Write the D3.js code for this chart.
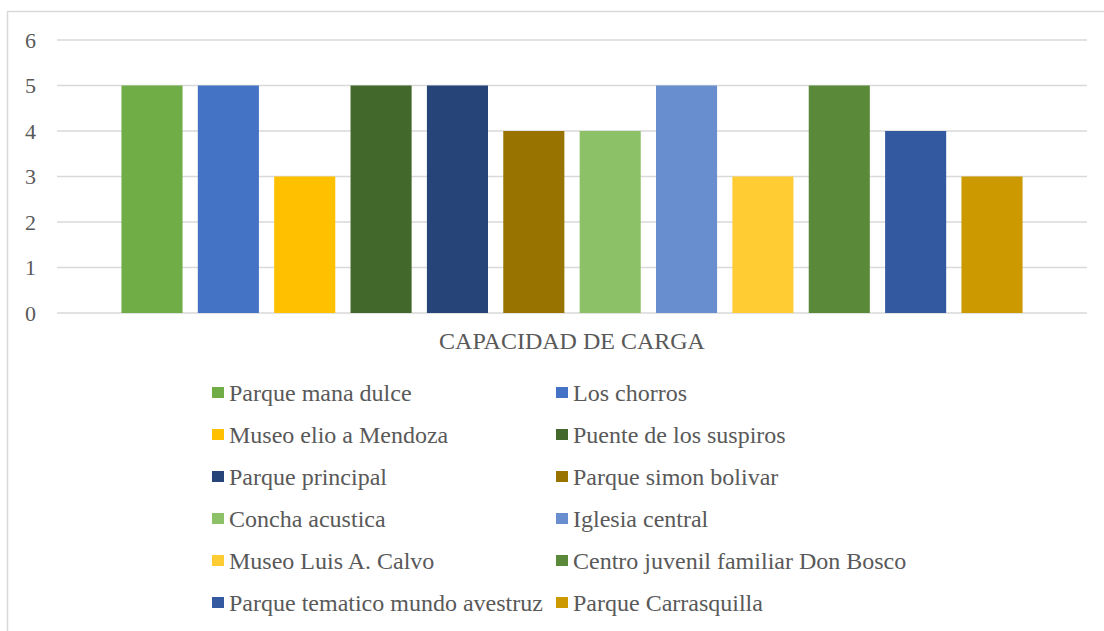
<!DOCTYPE html>
<html>
<head>
<meta charset="utf-8">
<script src="https://cdn.jsdelivr.net/npm/d3@7"></script>
<style>
  body { margin: 0; background: #fff; }
  svg text { font-family: 'Liberation Serif', 'Times New Roman', serif; fill: #595959; }
</style>
</head>
<body>
<svg id="chart" width="1104" height="631"></svg>
<script>
// single category, one bar per site
let category = "CAPACIDAD DE CARGA"
let sites = ["Parque mana dulce", "Los chorros", "Museo elio a Mendoza", "Puente de los suspiros",
  "Parque principal", "Parque simon bolivar", "Concha acustica", "Iglesia central",
  "Museo Luis A. Calvo", "Centro juvenil familiar Don Bosco", "Parque tematico mundo avestruz", "Parque Carrasquilla"]
let values = [5, 5, 3, 5, 5, 4, 4, 5, 3, 5, 4, 3]
let yTicks = [0, 1, 2, 3, 4, 5, 6]
let colors = ["#70AD47", "#4472C4", "#FFC000", "#43682B", "#264478", "#997300",
  "#8CC168", "#698ED0", "#FFCD33", "#5A8A39", "#335AA1", "#CC9A00"]

let svg = d3.select("#chart"),
    margin = {top: 40, right: 17, bottom: 318, left: 57},
    width = 1104 - margin.left - margin.right,
    height = 631 - margin.top - margin.bottom

// outer frame
svg.append("rect")
  .attr("x", 7.5).attr("y", 11.5)
  .attr("width", 1110).attr("height", 640)
  .attr("fill", "none").attr("stroke", "#d9d9d9").attr("stroke-width", 1.5)

let g = svg.append("g").attr("transform", "translate(" + margin.left + "," + margin.top + ")")

let x0 = d3.scaleBand().domain([category]).range([0, width]).paddingInner(0).paddingOuter(0.062)
let x1 = d3.scaleBand().domain(sites).range([0, x0.bandwidth()]).paddingInner(0.2).paddingOuter(0.1)
let y = d3.scaleLinear().domain([0, 6]).range([height, 0])
let color = d3.scaleOrdinal().domain(sites).range(colors)

// gridlines
g.selectAll(".grid")
  .data(yTicks)
  .enter().append("line")
    .attr("x1", 0).attr("x2", width)
    .attr("y1", d => y(d)).attr("y2", d => y(d))
    .attr("stroke", "#d9d9d9").attr("stroke-width", 1.5)

// y axis labels
let yAxis = g.append("g")
  .call(d3.axisLeft(y).tickValues(yTicks).tickSize(0).tickPadding(21).tickFormat(d3.format("d")))
yAxis.select(".domain").remove()
yAxis.selectAll("text").attr("font-size", 22).attr("fill", "#595959")

// bars
g.selectAll(".bar")
  .data(sites)
  .enter().append("rect")
    .attr("x", d => x0(category) + x1(d))
    .attr("y", (d, i) => y(values[i]))
    .attr("width", x1.bandwidth())
    .attr("height", (d, i) => height - y(values[i]))
    .attr("fill", d => color(d))

// category label
let xAxis = g.append("g")
  .attr("transform", "translate(0," + height + ")")
  .call(d3.axisBottom(x0).tickSize(0).tickPadding(19))
xAxis.select(".domain").remove()
xAxis.selectAll("text").attr("font-size", 24).attr("fill", "#595959")

// legend, two columns
let legendX = [212, 556], legendY = 387, rowGap = 42
let item = svg.selectAll(".legendItem")
  .data(sites)
  .enter().append("g")
    .attr("class", "legendItem")
    .attr("transform", (d, i) => "translate(" + legendX[i % 2] + "," + (legendY + Math.floor(i / 2) * rowGap) + ")")

item.append("rect")
  .attr("width", 12).attr("height", 11)
  .attr("fill", d => color(d))

item.append("text")
  .attr("x", 17).attr("y", 14)
  .attr("font-size", 24)
  .text(d => d)
</script>
</body>
</html>
